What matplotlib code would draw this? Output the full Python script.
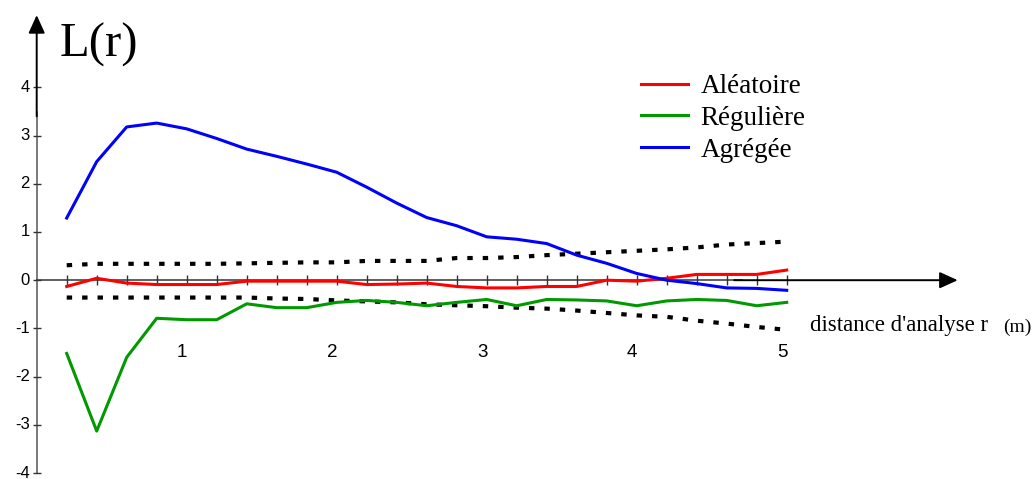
import matplotlib
matplotlib.use("Agg")
import matplotlib.pyplot as plt

# distances d'analyse (m)
r = [0.2, 0.4, 0.6, 0.8, 1.0, 1.2, 1.4, 1.6, 1.8, 2.0, 2.2, 2.4, 2.6,
     2.8, 3.0, 3.2, 3.4, 3.6, 3.8, 4.0, 4.2, 4.4, 4.6, 4.8, 5.0]

aleatoire = [-0.13, 0.04, -0.06, -0.09, -0.09, -0.09, -0.02, -0.02, -0.02,
             -0.02, -0.09, -0.08, -0.06, -0.13, -0.16, -0.16, -0.13, -0.13,
             0.00, -0.02, 0.04, 0.12, 0.12, 0.12, 0.21]
reguliere = [-1.52, -3.13, -1.60, -0.79, -0.82, -0.82, -0.49, -0.57, -0.57,
             -0.46, -0.42, -0.46, -0.53, -0.46, -0.40, -0.53, -0.40, -0.41,
             -0.43, -0.53, -0.43, -0.40, -0.42, -0.53, -0.46]
agregee = [1.29, 2.46, 3.18, 3.26, 3.14, 2.94, 2.72, 2.57, 2.41, 2.24, 1.93,
           1.60, 1.30, 1.13, 0.90, 0.85, 0.76, 0.52, 0.35, 0.14, 0.00, -0.07,
           -0.16, -0.17, -0.21]

# enveloppes de confiance
env_haut = [0.31, 0.34, 0.34, 0.34, 0.34, 0.34, 0.35, 0.36, 0.37, 0.37, 0.40,
            0.40, 0.40, 0.46, 0.46, 0.48, 0.52, 0.55, 0.58, 0.61, 0.64, 0.68,
            0.74, 0.77, 0.80]
env_bas = [-0.36, -0.36, -0.36, -0.36, -0.36, -0.36, -0.36, -0.38, -0.39,
           -0.42, -0.44, -0.46, -0.50, -0.52, -0.54, -0.57, -0.59, -0.63,
           -0.68, -0.73, -0.76, -0.84, -0.90, -0.97, -1.03]

yticks = [-4, -3, -2, -1, 0, 1, 2, 3, 4]
ylabels = ["-4", "-3", "-2", "-1", "0", "1", "2", "3", "4"]
xlabel_pos = [1, 2, 3, 4, 5]
xlabels = ["1", "2", "3", "4", "5"]

W, H = 1035, 479
fig = plt.figure(figsize=(W / 100, H / 100), dpi=100)
ax = fig.add_axes([0, 0, 1, 1])
ax.axis("off")

# pixel mapping: x = 36.7 + 150 r ; y = 280.2 - 48.2 L
x0, sx = 36.7, 150.0
y0, sy = 280.2, 48.2
ax.set_xlim(-x0 / sx, (W - x0) / sx)
ax.set_ylim((y0 - H) / sy, y0 / sy)

# axes with arrows
ax.plot([0, 0], [-4, 3.5], color="#555555", lw=1.1, zorder=2)
ax.annotate("", xy=(0, 5.5), xytext=(0, 3.4),
            arrowprops=dict(arrowstyle="-|>,head_length=1.1,head_width=0.5",
                            mutation_scale=10, color="black", lw=1.4,
                            shrinkA=0, shrinkB=0), zorder=3)
ax.plot([0, 4.7], [0, 0], color="#333333", lw=1.1, zorder=2)
ax.annotate("", xy=(6.14, 0), xytext=(4.65, 0),
            arrowprops=dict(arrowstyle="-|>,head_length=1.1,head_width=0.5",
                            mutation_scale=10, color="black", lw=1.4,
                            shrinkA=0, shrinkB=0), zorder=3)

# tick marks
ax.hlines(yticks, -0.027, 0.027, color="#333333", lw=1.0, zorder=2)
ax.vlines(r, -0.104, 0.104, color="#333333", lw=1.0, zorder=2)

for v, s in zip(yticks, ylabels):
    ax.text(-0.045, v, s, ha="right", va="center", fontsize=12,
            family="Liberation Sans")
for v, s in zip(xlabel_pos, xlabels):
    ax.text(v - 0.03, -1.51, s, ha="center", va="center", fontsize=13.5,
            family="Liberation Sans")

# envelopes
dots = dict(color="black", lw=3.0, linestyle=(0, (1.3, 2.4)),
            dash_capstyle="butt", zorder=3)
ax.plot(r, env_haut, **dots)
ax.plot(r, env_bas, **dots)

# series
ax.plot(r, aleatoire, color="#ff0000", lw=2.2, label="Aléatoire", zorder=4)
ax.plot(r, reguliere, color="#009900", lw=2.2, label="Régulière", zorder=4)
ax.plot(r, agregee, color="#0000ff", lw=2.2, label="Agrégée", zorder=4)

ax.legend(loc="upper left", bbox_to_anchor=(641 / W, 1 - 74 / H),
          frameon=False, prop=dict(family="Liberation Serif", size=19.5),
          handlelength=1.75, handletextpad=0.45, labelspacing=0.25,
          borderpad=0, borderaxespad=0)

ax.text((60 - x0) / sx, (y0 - 45) / sy, "L(r)", ha="left", va="center",
        fontsize=35, family="Liberation Serif")
ax.text((810 - x0) / sx, (y0 - 326) / sy, "distance d'analyse r",
        ha="left", va="center", fontsize=16.4, family="Liberation Serif")
ax.text((1031 - x0) / sx, (y0 - 327) / sy, "(m)", ha="right", va="center",
        fontsize=14, family="Liberation Serif")

fig.savefig("out.png", dpi=100)
